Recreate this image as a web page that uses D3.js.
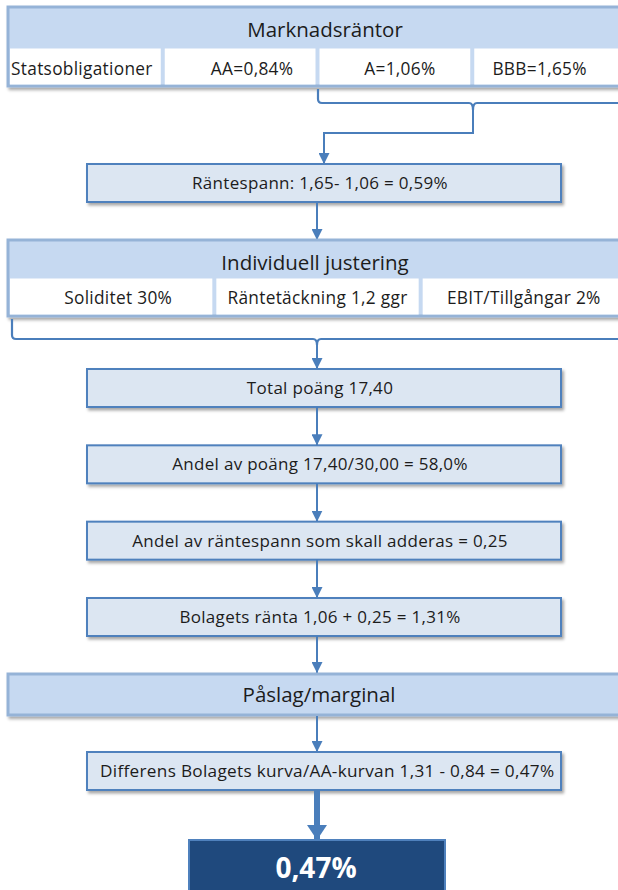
<!DOCTYPE html>
<html>
<head>
<meta charset="utf-8">
<title>Marknadsräntor - påslag</title>
<script src="https://cdn.jsdelivr.net/npm/d3@7"></script>
<style>
  body { margin: 0; background: #fff; }
  svg { display: block; font-family: "Open Sans", Lato, sans-serif; }
</style>
</head>
<body>
<div id="chart"></div>
<script>
// texts of the flow
const marketTitle = "Marknadsräntor";
const marketCells = ["Statsobligationer", "AA=0,84%", "A=1,06%", "BBB=1,65%"];
const spreadText = "Räntespann: 1,65- 1,06 = 0,59%";
const adjustTitle = "Individuell justering";
const adjustCells = ["Soliditet  30%", "Räntetäckning 1,2 ggr", "EBIT/Tillgångar 2%"];
const scoreSteps = [
  "Total poäng 17,40",
  "Andel av poäng 17,40/30,00 = 58,0%",
  "Andel av räntespann som skall adderas = 0,25",
  "Bolagets ränta 1,06 + 0,25 = 1,31%"
];
const marginTitle = "Påslag/marginal";
const diffText = "Differens Bolagets kurva/AA-kurvan 1,31 - 0,84 = 0,47%";
const resultText = "0,47%";

// layout
const width = 618, height = 890;
const wideL = 8, wideR = 627;      // the wide panels run past the right edge
const boxL = 87, boxR = 561;
const midX = 317;
const boxH = 38;
const marketNudge = [0, 12, 5, -10];
const adjustNudge = [7, 0, 0];
const titleSize = 20.5, cellSize = 17.3, stepSize = 17;
const spacing = "0.3px";

const headFill = "#c6d9f1", headLine = "#95b3d7";
const boxFill = "#dce6f2", boxLine = "#4f81bd";
const lineCol = "#4a7ebb", textCol = "#1c1c1c";

const svg = d3.select("#chart").append("svg")
  .attr("width", width)
  .attr("height", height);

const defs = svg.append("defs");
defs.append("filter").attr("id", "shadow")
  .attr("x", "-5%").attr("y", "-20%").attr("width", "115%").attr("height", "160%")
  .append("feDropShadow")
    .attr("dx", 2).attr("dy", 2.5).attr("stdDeviation", 1.5)
    .attr("flood-color", "#000").attr("flood-opacity", 0.35);

function marker(id, w, l) {
  defs.append("marker").attr("id", id)
    .attr("markerUnits", "userSpaceOnUse")
    .attr("viewBox", `0 0 ${l} ${w}`)
    .attr("markerWidth", l).attr("markerHeight", w)
    .attr("refX", l).attr("refY", w / 2)
    .attr("orient", "auto")
    .append("path")
      .attr("d", `M0,0 L${l},${w / 2} L0,${w} Z`)
      .attr("fill", lineCol);
}
marker("arrow", 11, 11);
marker("arrowBig", 20, 15);

function arrow(x, y0, y1, big) {
  svg.append("line")
    .attr("x1", x).attr("x2", x)
    .attr("y1", y0).attr("y2", y1)
    .attr("stroke", lineCol)
    .attr("stroke-width", big ? 6 : 2)
    .attr("marker-end", big ? "url(#arrowBig)" : "url(#arrow)");
}

// wide panel: title band on top, row of white cells below
function panel(top, headH, rowH, title, titleX, cells, titleBase, cellBase, nudge, firstLeft) {
  const g = svg.append("g");
  const x = d3.scaleBand().domain(cells).range([wideL, wideR]);
  g.append("rect")
    .attr("x", wideL).attr("y", top)
    .attr("width", wideR - wideL).attr("height", headH + rowH)
    .attr("fill", headFill).attr("stroke", headLine).attr("stroke-width", 3)
    .attr("filter", "url(#shadow)");
  g.selectAll(".cell").data(cells).enter().append("rect")
    .attr("class", "cell")
    .attr("x", d => x(d) + 2)
    .attr("y", top + headH + 1.5)
    .attr("width", x.bandwidth() - 4)
    .attr("height", rowH - 3)
    .attr("fill", "#fff");
  g.append("text")
    .attr("x", titleX)
    .attr("y", top + titleBase)
    .attr("text-anchor", "middle")
    .attr("font-size", titleSize)
    .attr("fill", textCol)
    .text(title);
  g.selectAll(".lab").data(cells).enter().append("text")
    .attr("class", "lab")
    .attr("x", (d, i) => (i === 0 && firstLeft) ? x(d) + 3 : x(d) + x.bandwidth() / 2 + nudge[i])
    .attr("y", top + headH + cellBase)
    .attr("text-anchor", (d, i) => (i === 0 && firstLeft) ? "start" : "middle")
    .attr("font-size", cellSize)
    .attr("letter-spacing", spacing)
    .attr("fill", textCol)
    .text(d => d);
}

function box(y, text, opts) {
  opts = opts || {};
  const g = svg.append("g");
  g.append("rect")
    .attr("x", boxL).attr("y", y)
    .attr("width", boxR - boxL).attr("height", boxH)
    .attr("fill", boxFill).attr("stroke", boxLine).attr("stroke-width", 2)
    .attr("filter", "url(#shadow)");
  g.append("text")
    .attr("x", opts.x || (boxL + boxR) / 2 - 4)
    .attr("y", y + boxH / 2)
    .attr("dy", "0.36em")
    .attr("text-anchor", opts.anchor || "middle")
    .attr("font-size", opts.size || stepSize)
    .attr("letter-spacing", spacing)
    .attr("fill", textCol)
    .text(text);
}

function brace(x0, x1, yTop, yBar, tip) {
  const m = (x0 + x1) / 2, r = 4;
  const p = d3.path();
  p.moveTo(x0, yTop);
  p.lineTo(x0, yBar - r);
  p.quadraticCurveTo(x0, yBar, x0 + r, yBar);
  p.lineTo(m - r, yBar);
  p.quadraticCurveTo(m, yBar, m, yBar + tip);
  p.quadraticCurveTo(m, yBar, m + r, yBar);
  p.lineTo(x1 - r, yBar);
  p.quadraticCurveTo(x1, yBar, x1, yBar - r);
  p.lineTo(x1, yTop);
  svg.append("path")
    .attr("d", p.toString())
    .attr("fill", "none")
    .attr("stroke", lineCol)
    .attr("stroke-width", 2.2);
}

// Marknadsräntor
panel(7, 40, 39, marketTitle, 325, marketCells, 30, 28, marketNudge, true);

// brace under A and BBB, elbow down to the spread box
brace(318, 628, 89, 103, 7);
svg.append("path")
  .attr("d", d3.line()([[473, 108], [473, 133], [324, 133]]))
  .attr("fill", "none").attr("stroke", lineCol).attr("stroke-width", 2);
arrow(324, 132, 164);

box(164, spreadText);
arrow(midX, 203, 240);

// Individuell justering
panel(240, 37, 39, adjustTitle, 315, adjustCells, 30, 27, adjustNudge, false);

brace(12, 622, 319, 339, 6);
arrow(midX, 344, 369);

// steps
const stepY = d3.scalePoint().domain(scoreSteps).range([369, 598]);
scoreSteps.forEach((s, i) => {
  box(stepY(s), s);
  if (i < scoreSteps.length - 1) arrow(midX, stepY(s) + boxH, stepY(scoreSteps[i + 1]));
});
arrow(midX, stepY(scoreSteps[3]) + boxH, 673);

// Påslag/marginal band
const mg = svg.append("g");
mg.append("rect")
  .attr("x", wideL).attr("y", 674)
  .attr("width", wideR - wideL).attr("height", 41)
  .attr("fill", headFill).attr("stroke", headLine).attr("stroke-width", 3)
  .attr("filter", "url(#shadow)");
mg.append("text")
  .attr("x", 319).attr("y", 702)
  .attr("text-anchor", "middle")
  .attr("font-size", titleSize)
  .attr("fill", textCol)
  .text(marginTitle);

arrow(midX, 716, 752);
box(752, diffText, { size: 17.2, x: 100, anchor: "start" });

arrow(midX, 790, 840, true);

// result
svg.append("rect")
  .attr("x", 189).attr("y", 840)
  .attr("width", 256).attr("height", 70)
  .attr("fill", "#1f497d").attr("stroke", boxLine).attr("stroke-width", 2);
svg.append("text")
  .attr("x", 316).attr("y", 878)
  .attr("text-anchor", "middle")
  .attr("font-size", 28)
  .attr("font-weight", "bold")
  .attr("fill", "#fff")
  .text(resultText);
</script>
</body>
</html>
